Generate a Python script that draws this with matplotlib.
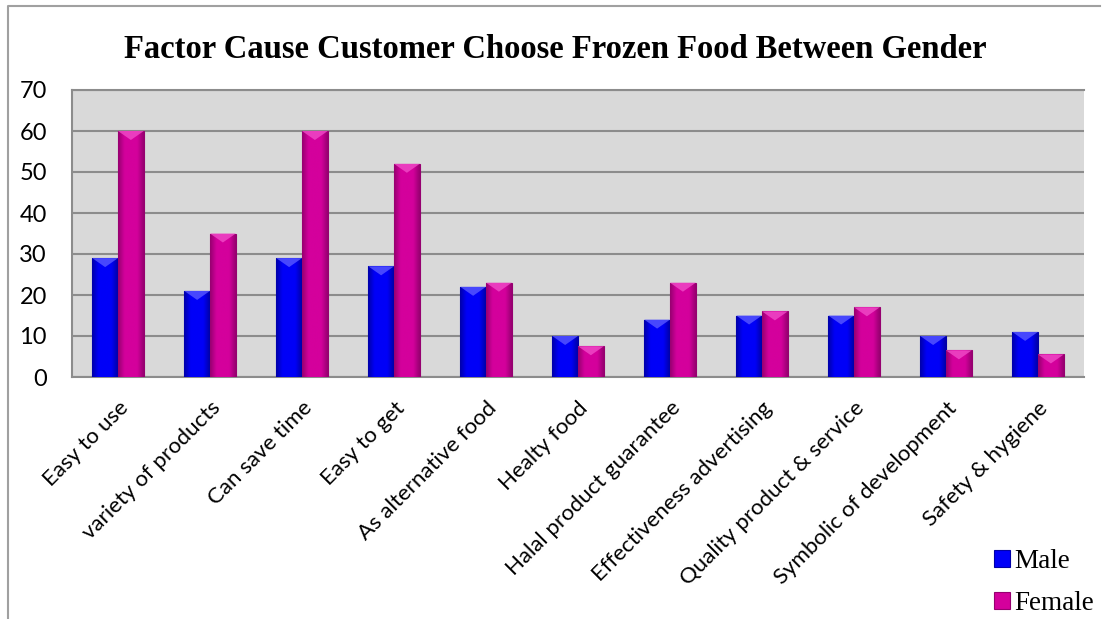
import numpy as np
import matplotlib.pyplot as plt
from matplotlib.patches import Polygon
from matplotlib.lines import Line2D
from matplotlib.colors import LinearSegmentedColormap

# chart data
categories = ['Easy to use', 'variety of products', 'Can save time', 'Easy to get',
              'As alternative food', 'Healty food', 'Halal product guarantee',
              'Effectiveness advertising', 'Quality product & service',
              'Symbolic of development', 'Safety & hygiene']
male = [29, 21, 29, 27, 22, 10, 14, 15, 15, 10, 11]
female = [60, 35, 60, 52, 23, 7.5, 23, 16, 17, 6.5, 5.5]
y_ticks = [0, 10, 20, 30, 40, 50, 60, 70]

W, H = 1110, 619
fig = plt.figure(figsize=(W / 100, H / 100), dpi=100)
ax = fig.add_axes([72 / W, 1 - 377 / H, (1084 - 72) / W, (377 - 90) / H])

# outer chart border (left and top only are in frame)
fig.lines.append(Line2D([8 / W, 8 / W, 1100 / W], [0, 1 - 6 / H, 1 - 6 / H],
                        transform=fig.transFigure, color='#a0a0a0', lw=1.5))

x = np.arange(len(categories))
w = 0.28
ax.set_xlim(-0.5, len(categories) - 0.5)
ax.set_ylim(0, 70)

series = [
    (male, x - w / 2, 'Male', '#0000f8', '#0000a8', '#5a5aff'),
    (female, x + w / 2, 'Female', '#d4009c', '#960070', '#f04cc8'),
]
# 9 px in data units, for the top bevel
px_y = 70 / (377 - 90)
for vals, pos, name, col, dark, light in series:
    bars = ax.bar(pos, vals, w, color=col, edgecolor=dark, lw=0.8, label=name, zorder=3)
    cmap = LinearSegmentedColormap.from_list(name, [dark, col, col, col, dark])
    grad = np.linspace(0, 1, 64).reshape(1, -1)
    for b in bars:
        bx, bw, bh = b.get_x(), b.get_width(), b.get_height()
        im = ax.imshow(grad, cmap=cmap, aspect='auto', extent=(bx, bx + bw, 0, bh),
                       zorder=3.1, interpolation='bicubic')
        im.set_clip_path(b)
        ax.add_patch(Polygon([(bx, bh), (bx + bw, bh), (bx + bw / 2, bh - 9 * px_y)],
                             closed=True, facecolor=light, edgecolor='none', alpha=0.8, zorder=3.2))
ax.set_xlim(-0.5, len(categories) - 0.5)
ax.set_ylim(0, 70)

ax.set_facecolor('#d9d9d9')
ax.set_yticks(y_ticks)
ax.yaxis.grid(True, color='#8c8c8c', lw=1.5, zorder=0)
ax.set_axisbelow(True)
for s in ax.spines.values():
    s.set_color('#8c8c8c')
    s.set_linewidth(1.5)
ax.spines['right'].set_visible(False)

ax.tick_params(axis='y', length=0, labelsize=17, pad=18)
ax.tick_params(axis='x', length=0, labelsize=16, pad=15)
ax.set_xticks(x)
ax.set_xticklabels(categories, rotation=45, ha='right', rotation_mode='anchor', fontfamily='Lato')
for lbl in ax.get_yticklabels():
    lbl.set_fontfamily('Lato')

fig.text(0.5, 1 - 50 / H, 'Factor Cause Customer Choose Frozen Food Between Gender',
         ha='center', va='center', fontsize=23.5, fontweight='bold', family='Liberation Serif')

fig.legend(handles=[ax.containers[0], ax.containers[1]], labels=['Male', 'Female'],
           loc='lower left', bbox_to_anchor=(991 / W, 1 - 619 / H), frameon=False,
           borderpad=0.1, borderaxespad=0,
           prop={'family': 'Liberation Serif', 'size': 19.5}, handlelength=0.6,
           handleheight=0.6, handletextpad=0.15, labelspacing=0.65)

fig.savefig('out.png', dpi=100)
